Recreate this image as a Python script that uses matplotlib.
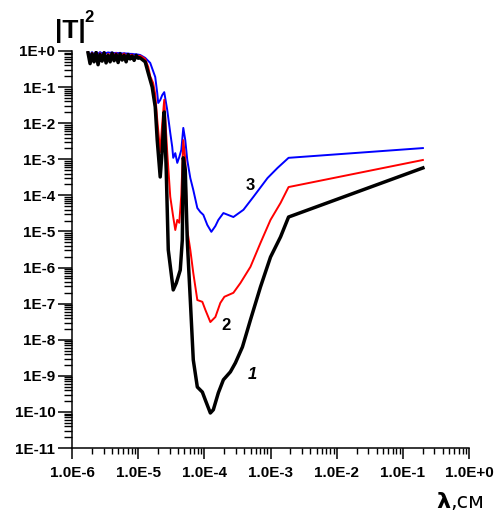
import numpy as np
import matplotlib
matplotlib.use("Agg")
import matplotlib.pyplot as plt
from matplotlib.ticker import LogLocator, FixedLocator, NullFormatter

# log10 of wavelength (cm) for the noisy plateau shared by all three curves
plateau_log_lam = [-5.758, -5.727, -5.697, -5.667, -5.636, -5.606, -5.576, -5.545, -5.515,
                   -5.485, -5.455, -5.424, -5.394, -5.364, -5.333, -5.303, -5.273, -5.242,
                   -5.212, -5.182, -5.152, -5.121, -5.091, -5.061, -5.030, -5.000, -4.970]

# curve 1 (black)
black_plateau = [-0.05, -0.35, -0.08, -0.30, -0.04, -0.38, -0.10, -0.28, -0.05, -0.33, -0.12,
                 -0.30, -0.06, -0.27, -0.10, -0.32, -0.08, -0.25, -0.12, -0.30, -0.10, -0.22,
                 -0.14, -0.26, -0.12, -0.20, -0.19]
black_log_lam = [-4.894, -4.848, -4.788, -4.742, -4.712, -4.667, -4.636, -4.606, -4.576, -4.545,
                 -4.470, -4.424, -4.364, -4.333, -4.318, -4.288, -4.258, -4.212, -4.167, -4.106,
                 -4.030, -3.985, -3.909, -3.864, -3.788, -3.712, -3.606, -3.530, -3.424, -3.348,
                 -3.303, -3.152, -3.000, -2.848, -2.727, -0.697]
black_log_T = [-0.30, -0.61, -1.00, -1.55, -2.47, -3.49, -2.74, -1.69, -3.30, -5.51,
               -6.62, -6.43, -6.07, -5.24, -2.96, -3.30, -5.24, -6.90, -8.56, -9.31,
               -9.45, -9.67, -10.03, -9.94, -9.47, -9.11, -8.89, -8.64, -8.20, -7.73,
               -7.45, -6.54, -5.71, -5.15, -4.60, -3.24]

# curve 2 (red)
red_plateau = [-0.03, -0.25, -0.05, -0.20, -0.02, -0.22, -0.06, -0.18, -0.04, -0.20, -0.08,
               -0.15, -0.05, -0.12, -0.06, -0.14, -0.08, -0.12, -0.07, -0.15, -0.09, -0.13,
               -0.10, -0.18, -0.12, -0.14, -0.13]
red_log_lam = [-4.894, -4.848, -4.818, -4.773, -4.742, -4.712, -4.667, -4.636, -4.606, -4.561,
               -4.515, -4.470, -4.439, -4.409, -4.379, -4.348, -4.318, -4.288, -4.258, -4.212,
               -4.167, -4.106, -4.030, -3.985, -3.909, -3.833, -3.758, -3.697, -3.561, -3.455,
               -3.303, -3.152, -3.000, -2.848, -2.727, -0.697]
red_log_T = [-0.22, -0.44, -0.70, -0.89, -1.20, -1.90, -2.80, -2.00, -1.35, -2.80,
             -4.04, -4.60, -4.96, -4.68, -4.76, -3.99, -2.47, -3.00, -4.96, -5.51,
             -6.15, -6.90, -6.95, -7.17, -7.51, -7.37, -6.98, -6.81, -6.70, -6.43,
             -5.98, -5.32, -4.68, -4.21, -3.77, -3.02]

# curve 3 (blue)
blue_plateau = [-0.02, -0.12, -0.03, -0.10, -0.02, -0.08, -0.03, -0.07, -0.03, -0.06, -0.04,
                -0.05, -0.04, -0.06, -0.05, -0.06, -0.05, -0.07, -0.06, -0.07, -0.07, -0.08,
                -0.08, -0.09, -0.09, -0.10, -0.11]
blue_log_lam = [-4.894, -4.818, -4.742, -4.712, -4.697, -4.667, -4.636, -4.606, -4.561, -4.515,
                -4.485, -4.470, -4.439, -4.409, -4.379, -4.348, -4.318, -4.288, -4.258, -4.212,
                -4.167, -4.106, -4.061, -4.015, -3.955, -3.894, -3.833, -3.788, -3.712, -3.561,
                -3.409, -3.258, -3.045, -2.894, -2.727, -0.697]
blue_log_T = [-0.19, -0.33, -0.72, -1.16, -1.44, -1.36, -1.22, -1.14, -1.63, -2.27,
              -2.66, -2.96, -2.83, -3.10, -2.94, -2.74, -2.13, -2.47, -3.02, -3.52,
              -3.85, -4.35, -4.46, -4.54, -4.82, -5.01, -4.85, -4.68, -4.49, -4.60,
              -4.40, -4.04, -3.52, -3.24, -2.96, -2.69]

x_ticks = [1e-6, 1e-5, 1e-4, 1e-3, 1e-2, 1e-1, 1e0]
x_ticklabels = ["1.0E-6", "1.0E-5", "1.0E-4", "1.0E-3", "1.0E-2", "1.0E-1", "1.0E+0"]
y_ticks = [10.0 ** -k for k in range(12)]
y_ticklabels = ["1E+0"] + ["1E-%d" % k for k in range(1, 12)]

# curve number labels: (log10 lambda, log10 |T|^2, text, italic)
curve_labels = [(-3.27, -8.95, "1", True), (-3.68, -7.60, "2", False), (-3.30, -3.72, "3", False)]


def build(plateau, log_lam, log_T):
    lam = 10.0 ** np.array(plateau_log_lam + log_lam)
    T = 10.0 ** np.array(plateau + log_T)
    return lam, T


fig = plt.figure(figsize=(5.02, 5.17), dpi=100)
ax = fig.add_axes([72 / 502, 69 / 517, 397 / 502, 397 / 517])

for plateau, log_lam, log_T, color, lw in [
        (blue_plateau, blue_log_lam, blue_log_T, "#0000ff", 1.4),
        (red_plateau, red_log_lam, red_log_T, "#ff0000", 1.4),
        (black_plateau, black_log_lam, black_log_T, "black", 2.5)]:
    lam, T = build(plateau, log_lam, log_T)
    ax.plot(lam, T, color=color, linewidth=lw, solid_joinstyle="round")

ax.set_xscale("log")
ax.set_yscale("log")
ax.set_xlim(1e-6, 1e0)
ax.set_ylim(1e-11, 1e0)

for side in ["top", "right"]:
    ax.spines[side].set_visible(False)
for side in ["left", "bottom"]:
    ax.spines[side].set_linewidth(1.1)

tick_font = dict(family="Liberation Sans", weight="bold", size=11)
ax.xaxis.set_major_locator(FixedLocator(x_ticks))
ax.set_xticklabels(x_ticklabels, **tick_font)
ax.yaxis.set_major_locator(FixedLocator(y_ticks))
ax.set_yticklabels(y_ticklabels, **tick_font)
ax.xaxis.set_minor_locator(LogLocator(base=10, subs=np.arange(2, 10), numticks=20))
ax.yaxis.set_minor_locator(LogLocator(base=10, subs=np.arange(2, 10), numticks=30))
ax.xaxis.set_minor_formatter(NullFormatter())
ax.yaxis.set_minor_formatter(NullFormatter())
ax.tick_params(axis="x", which="major", direction="out", length=8, width=1.1, pad=5)
ax.tick_params(axis="x", which="minor", direction="out", length=4.5, width=1.0)
ax.tick_params(axis="y", which="major", direction="out", length=10, width=1.1, pad=2)
ax.tick_params(axis="y", which="minor", direction="out", length=6, width=1.0)

for lx, ly, txt, italic in curve_labels:
    ax.text(10 ** lx, 10 ** ly, txt, fontsize=12, fontweight="bold",
            fontstyle="italic" if italic else "normal", family="Liberation Sans",
            ha="center", va="center")

# axis captions
fig.text(55 / 502, 1 - 38 / 517, "|T|", fontsize=19, fontweight="bold",
         family="Liberation Sans", ha="left", va="baseline")
fig.text(84 / 502, 1 - 22 / 517, "2", fontsize=12, fontweight="bold",
         family="Liberation Sans", ha="left", va="baseline")
fig.text(436 / 502, 1 - 508 / 517, "λ", fontsize=16, fontweight="bold",
         family="DejaVu Sans", ha="left", va="baseline")
fig.text(450 / 502, 1 - 508 / 517, ",см", fontsize=15,
         family="DejaVu Sans", ha="left", va="baseline")

fig.savefig("out.png", dpi=100, facecolor="white")
